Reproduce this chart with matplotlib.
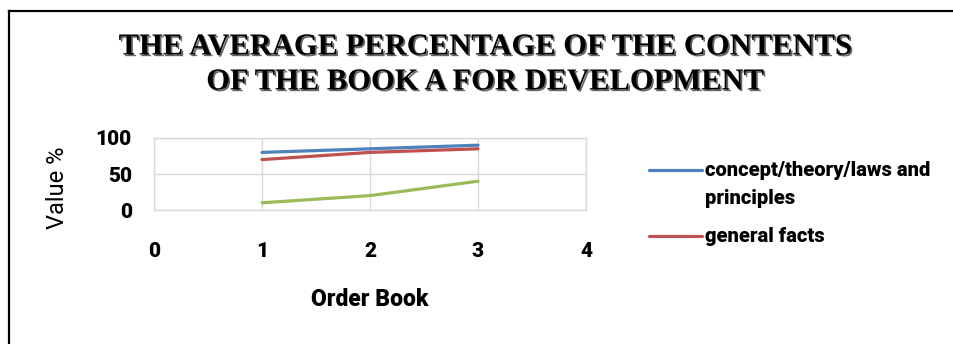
import matplotlib
matplotlib.use("Agg")
import matplotlib.pyplot as plt
from matplotlib.lines import Line2D
import matplotlib.patheffects as pe

# Series data
order_book = [1, 2, 3]
concept_theory = [80, 85, 90]
general_facts = [70, 80, 85]
third_series = [10, 20, 40]

series_labels = ["concept/theory/laws and\nprinciples", "general facts", "other"]
colors = ["#4F81BD", "#C0504D", "#9BBB59"]

x_ticks = [0, 1, 2, 3, 4]
y_ticks = [0, 50, 100]

title_lines = ["THE AVERAGE PERCENTAGE OF THE CONTENTS",
               "OF THE BOOK A FOR DEVELOPMENT"]
x_label = "Order Book"
y_label = "Value %"

SANS = "Roboto"
HEAVY = 900

W, H = 954, 344
fig = plt.figure(figsize=(W / 100, H / 100), dpi=100)
fig.patch.set_facecolor("white")

def fx(px):
    return px / W

def fy(py):
    return 1 - py / H

# Chart frame (left and top edges)
fig.add_artist(Line2D([fx(9), fx(9)], [fy(11), 0], transform=fig.transFigure,
                      color="black", lw=1.6))
fig.add_artist(Line2D([fx(9), 1], [fy(11), fy(11)], transform=fig.transFigure,
                      color="black", lw=1.6))

ax = fig.add_axes([fx(154), fy(210), (586 - 154) / W, (210 - 138) / H])
for vals, col, lab in zip([concept_theory, general_facts, third_series], colors, series_labels):
    ax.plot(order_book, vals, color=col, lw=2.3, solid_capstyle="round", label=lab)

ax.set_xlim(0, 4)
ax.set_ylim(0, 100)
ax.set_xticks(x_ticks)
ax.set_yticks(y_ticks)
ax.grid(True, color="#D9D9D9", lw=1.0)
ax.set_axisbelow(True)
for s in ax.spines.values():
    s.set_color("#D9D9D9")
    s.set_linewidth(1.0)

ax.tick_params(axis="x", length=0, pad=23)
ax.tick_params(axis="y", length=0, pad=16)
for t in ax.get_xticklabels() + ax.get_yticklabels():
    t.set_fontfamily(SANS)
    t.set_fontweight(HEAVY)
    t.set_fontsize(15)

# Axis titles
fig.text(fx(370), fy(300), x_label, ha="center", va="center",
         family=SANS, weight=HEAVY, size=16.5)
fig.text(fx(58), fy(188), y_label, ha="center", va="center", rotation=90,
         family=SANS, size=17)

# Chart title
shadow = [pe.withSimplePatchShadow(offset=(1.2, -1.2), shadow_rgbFace="#555555", alpha=0.9)]
for i, line in enumerate(title_lines):
    fig.text(fx(485), fy(47 + i * 35), line, ha="center", va="center",
             family="Liberation Serif", weight="bold", size=22, path_effects=shadow)

# Legend (first two series)
legend_rows = [(170, 0, ["concept/theory/laws and", "principles"]),
               (236, 1, ["general facts"])]
for ypx, idx, texts in legend_rows:
    fig.add_artist(Line2D([fx(649), fx(702)], [fy(ypx), fy(ypx)], transform=fig.transFigure,
                          color=colors[idx], lw=2.3, solid_capstyle="round"))
    for j, tx in enumerate(texts):
        fig.text(fx(705), fy(ypx + j * 29), tx, ha="left", va="center",
                 family=SANS, weight=HEAVY, size=14.5)

fig.savefig("out.png", dpi=100)
